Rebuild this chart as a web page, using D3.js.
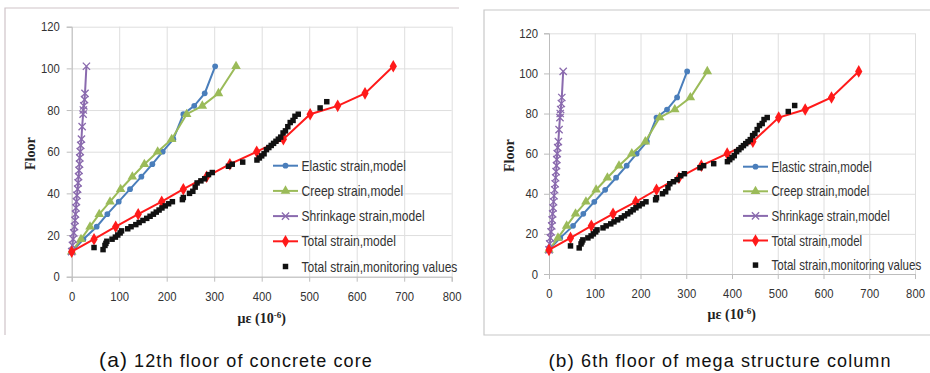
<!DOCTYPE html>
<html lang="en">
<head>
<meta charset="UTF-8">
<title>Strain distribution along floors</title>
<script src="https://cdn.jsdelivr.net/npm/d3@7"></script>
<style>
  body { margin: 0; background: #fff; }
  svg { display: block; }
</style>
</head>
<body>
<script>
// model floors (elastic / creep / total)
var floors   = [12, 18, 24, 30, 36, 42, 48, 54, 60, 66, 78, 82, 88, 101];
var elastic  = [0, 24.6, 52.6, 75, 99, 122.8, 146.7, 169.8, 191.6, 214, 235, 258, 280, 302];
var creep    = [0, 19.6, 38.6, 58, 80.7, 103, 127.7, 153, 181, 210.5, 242, 275, 309, 346];
var total    = [0, 47, 92.6, 140, 189.5, 235, 284, 333, 389.5, 445.6, 502, 560, 617.5, 677];

// shrinkage has more points
var shrinkFloors = [12, 15, 18, 21, 24, 27, 30, 33, 36, 39, 42, 45, 48, 51, 54, 57, 60, 63, 66, 72, 78, 80, 82, 85, 88, 101];
var shrinkage    = [0, 1.5, 3, 4.5, 6, 7, 8, 9, 10, 11, 12.5, 13.5, 14.5, 15.5, 16.5, 17, 18, 19, 20.5, 22, 24, 24.5, 25.5, 27, 28, 31];

// monitoring values
var monStrain = [47, 66, 70, 72, 74, 85, 92, 97, 102, 105, 118, 125, 135, 142, 150, 158, 165, 172, 178, 184, 190, 197, 204, 212,
                 233, 235, 248, 255, 260, 264, 272, 280, 288, 296, 330, 338, 360, 390, 395, 400, 405, 410, 415, 420, 425,
                 430, 435, 440, 445, 450, 455, 460, 466, 470, 477, 523, 537];
var monFloors = [14, 13, 15, 16, 17, 18, 19, 20, 21, 22, 23, 24, 25, 26, 27, 28, 29, 30, 31, 32, 33, 34, 35, 36,
                 37, 38, 40, 41, 43, 45, 46, 47, 49, 50, 53, 54, 55, 56, 57, 58, 59, 61, 62, 63, 64,
                 65, 66, 67, 69, 70, 72, 74, 75, 77, 78, 81, 84];

var xTicks = [0, 100, 200, 300, 400, 500, 600, 700, 800];
var yTicks = [0, 20, 40, 60, 80, 100, 120];

var legendLabels = ["Elastic strain,model", "Creep strain,model", "Shrinkage strain,model",
                    "Total strain,model", "Total strain,monitoring values"];
var captionTags = ["(a)", "(b)"];
var captionTexts = [" 12th floor of concrete core", " 6th floor of mega structure column"];

var W = 930, H = 373;
var svg = d3.select("body").append("svg").attr("width", W).attr("height", H);

var sansFont = "'Liberation Sans',Arial,sans-serif";

var series = [
  {xs: elastic,   ys: floors,       color: "#4a7ebb", sym: d3.symbolCircle,   size: 26, stroke: false},
  {xs: creep,     ys: floors,       color: "#9bbb59", sym: d3.symbolTriangle, size: 40, stroke: false},
  {xs: shrinkage, ys: shrinkFloors, color: "#8a6aae", sym: d3.symbolX,        size: 36, stroke: true},
  {xs: total,     ys: floors,       color: "#ff1a1a", sym: d3.symbolDiamond,  size: 46, stroke: false}
];

// panel layouts
var panels = [
  {x0: 71.7, x1: 451.7, y0: 276.7, y1: 26.7, lx: 273, ly: 165.7, lstep: 25.2, lw: 156,
   floorX: 35, titleX: 261.7, titleY: 323, capX: 236,
   border: "M5,335V8H459", borderColor: "#cfc3c8", ypad: 7},
  {x0: 549, x1: 915, y0: 274, y1: 33.3, lx: 743, ly: 166.7, lstep: 24.6, lw: 150,
   floorX: 514, titleX: 731.7, titleY: 319, capX: 720,
   border: "M930,335H484V10H930", borderColor: "#c8c8c8", ypad: 6}
];

panels.forEach(function (p, pi) {
  var g = svg.append("g");

  g.append("path").attr("d", p.border).attr("fill", "none")
    .attr("stroke", p.borderColor).attr("stroke-width", 1.2);

  var x = d3.scaleLinear().domain([0, 800]).range([p.x0, p.x1]);
  var y = d3.scaleLinear().domain([0, 120]).range([p.y0, p.y1]);

  // grid
  g.append("g").attr("transform", "translate(0," + p.y0 + ")")
    .call(d3.axisBottom(x).tickValues(xTicks).tickSize(-(p.y0 - p.y1)).tickFormat(""))
    .call(function (s) { s.select(".domain").remove(); s.selectAll("line").attr("stroke", "#dedede"); });
  g.append("g").attr("transform", "translate(" + p.x0 + ",0)")
    .call(d3.axisLeft(y).tickValues(yTicks).tickSize(-(p.x1 - p.x0)).tickFormat(""))
    .call(function (s) { s.select(".domain").remove(); s.selectAll("line").attr("stroke", "#dedede"); });

  // axes
  var gx = g.append("g").attr("transform", "translate(0," + p.y0 + ")")
    .call(d3.axisBottom(x).tickValues(xTicks).tickSizeOuter(0).tickSize(5).tickPadding(10));
  var gy = g.append("g").attr("transform", "translate(" + p.x0 + ",0)")
    .call(d3.axisLeft(y).tickValues(yTicks).tickSizeOuter(0).tickSize(5).tickPadding(p.ypad));
  [gx, gy].forEach(function (a) {
    a.select(".domain").attr("stroke", "#bdbdbd");
    a.selectAll(".tick line").attr("stroke", "#bdbdbd");
    a.selectAll("text").attr("fill", "#333").style("font-family", sansFont).style("font-size", "12.5px")
      .each(function () {
        var len = this.getComputedTextLength();
        d3.select(this).attr("textLength", len * 0.9).attr("lengthAdjust", "spacingAndGlyphs");
      });
  });

  var line = d3.line();

  series.forEach(function (s) {
    var pts = s.xs.map(function (v, i) { return [x(v), y(s.ys[i])]; });
    g.append("path").attr("d", line(pts)).attr("fill", "none")
      .attr("stroke", s.color).attr("stroke-width", 2);
    var sym = d3.symbol().type(s.sym).size(s.size);
    g.selectAll(null).data(pts).enter().append("path")
      .attr("transform", function (d) { return "translate(" + d[0] + "," + d[1] + ")"; })
      .attr("d", sym)
      .attr("fill", s.stroke ? "none" : s.color)
      .attr("stroke", s.stroke ? s.color : "none")
      .attr("stroke-width", 1.3);
  });

  // monitoring squares
  var sq = d3.symbol().type(d3.symbolSquare).size(30);
  g.selectAll(null).data(monStrain).enter().append("path")
    .attr("transform", function (d, i) { return "translate(" + x(d) + "," + y(monFloors[i]) + ")"; })
    .attr("d", sq).attr("fill", "#111");

  // legend
  var ltexts = [];
  legendLabels.forEach(function (lab, i) {
    var ly = p.ly + i * p.lstep;
    var mid = p.lx + 12.5;
    if (i < 4) {
      var s = series[i];
      g.append("line").attr("x1", p.lx).attr("x2", p.lx + 25).attr("y1", ly).attr("y2", ly)
        .attr("stroke", s.color).attr("stroke-width", 2);
      g.append("path").attr("transform", "translate(" + mid + "," + ly + ")")
        .attr("d", d3.symbol().type(s.sym).size(s.size))
        .attr("fill", s.stroke ? "none" : s.color)
        .attr("stroke", s.stroke ? s.color : "none").attr("stroke-width", 1.3);
    } else {
      g.append("path").attr("transform", "translate(" + mid + "," + ly + ")")
        .attr("d", sq).attr("fill", "#111");
    }
    ltexts.push({y: ly + 5, el: g.append("text")
      .style("font-family", sansFont).style("font-size", "14px").attr("fill", "#333")
      .text(lab)});
  });
  // squeeze legend text horizontally to a Calibri-like width
  var longest = d3.max(ltexts, function (t) { return t.el.node().getComputedTextLength(); });
  var k = p.lw / longest;
  ltexts.forEach(function (t) {
    t.el.attr("transform", "translate(" + (p.lx + 28.5) + "," + t.y + ") scale(" + k + ",1)");
  });

  // axis titles
  g.append("text").attr("transform", "translate(" + p.floorX + "," + ((p.y0 + p.y1) / 2 + 2) + ") rotate(-90)")
    .attr("text-anchor", "middle")
    .style("font-family", "'Liberation Serif',serif").style("font-weight", "bold").style("font-size", "14px")
    .attr("fill", "#222").text("Floor");

  var t = g.append("text").attr("x", p.titleX).attr("y", p.titleY).attr("text-anchor", "middle")
    .style("font-family", "'Liberation Serif',serif").style("font-weight", "bold").style("font-size", "14px")
    .attr("fill", "#222");
  t.append("tspan").text("με (10");
  t.append("tspan").attr("dy", -5).style("font-size", "9px").text("-6");
  t.append("tspan").attr("dy", 5).text(")");

  // caption
  var c = svg.append("text").attr("x", p.capX).attr("y", 367).attr("text-anchor", "middle")
    .style("font-family", sansFont).style("font-size", "18px")
    .style("letter-spacing", "1.1px").attr("fill", "#111");
  c.append("tspan").style("font-size", pi === 0 ? "21px" : "19px").text(captionTags[pi]);
  c.append("tspan").text(captionTexts[pi]);
});
</script>
</body>
</html>
